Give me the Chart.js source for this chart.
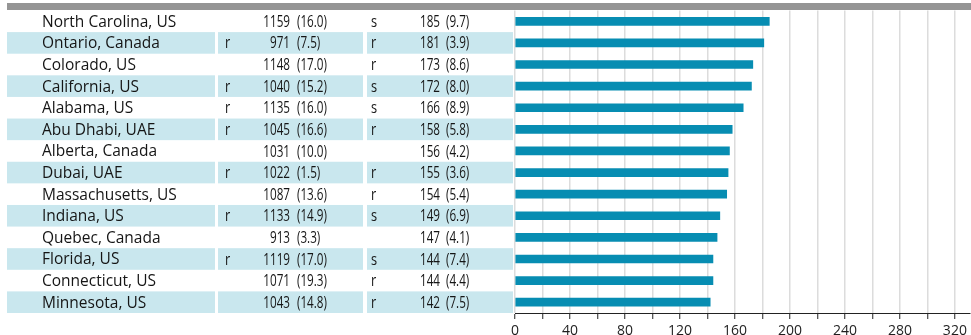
<!DOCTYPE html>
<html>
<head>
<meta charset="utf-8">
<script src="https://cdn.jsdelivr.net/npm/chart.js@4.4.0/dist/chart.umd.min.js"></script>
<style>
  html, body { margin: 0; padding: 0; background: #fff; }
  #wrap { width: 971px; height: 335px; }
</style>
</head>
<body>
<div id="wrap"><canvas id="rankChart"></canvas></div>
<script>
// Table rows, top to bottom
const regions = [
  "North Carolina, US", "Ontario, Canada", "Colorado, US", "California, US",
  "Alabama, US", "Abu Dhabi, UAE", "Alberta, Canada", "Dubai, UAE",
  "Massachusetts, US", "Indiana, US", "Quebec, Canada", "Florida, US",
  "Connecticut, US", "Minnesota, US",
];
const totalFlags = ["", "r", "", "r", "r", "r", "", "r", "", "r", "", "r", "", ""];
const totals = [1159, 971, 1148, 1040, 1135, 1045, 1031, 1022, 1087, 1133, 913, 1119, 1071, 1043];
const totalsPct = ["16.0", "7.5", "17.0", "15.2", "16.0", "16.6", "10.0", "1.5", "13.6", "14.9", "3.3", "17.0", "19.3", "14.8"];
const countFlags = ["s", "r", "r", "s", "s", "r", "", "r", "r", "s", "", "s", "r", "r"];
const counts = [185, 181, 173, 172, 166, 158, 156, 155, 154, 149, 147, 144, 144, 142];
const countsPct = ["9.7", "3.9", "8.6", "8.0", "8.9", "5.8", "4.2", "3.6", "5.4", "6.9", "4.1", "7.4", "4.4", "7.5"];

const nameFont = "500 15.5px 'Open Sans'";
const numFont = "500 16px 'Open Sans'";
const bandColor = "#c9e7ee";

// condensed text drawing (squeeze horizontally)
function drawSqueezed(ctx, str, x, y, align, sx) {
  ctx.save();
  ctx.translate(x, y);
  ctx.scale(sx, 1);
  ctx.textAlign = align;
  ctx.fillText(str, 0, 0);
  ctx.restore();
}

const tablePlugin = {
  id: "tablePlugin",
  beforeDraw(chart) {
    const ctx = chart.ctx;
    const yScale = chart.scales.y;
    const pitch = yScale.getPixelForValue(1) - yScale.getPixelForValue(0);
    ctx.save();
    // header strip
    ctx.fillStyle = "#959595";
    ctx.fillRect(7, 3, 964, 7);
    regions.forEach((name, i) => {
      const yc = yScale.getPixelForValue(i);
      if (i % 2 === 1) {
        ctx.fillStyle = bandColor;
        const top = yc - pitch / 2;
        ctx.fillRect(7, top, 208, pitch);
        ctx.fillRect(218, top, 145, pitch);
        ctx.fillRect(367, top, 146, pitch);
      }
      ctx.fillStyle = "#151515";
      ctx.textBaseline = "middle";
      const ty = yc + 1;
      ctx.font = nameFont;
      drawSqueezed(ctx, name, 42, ty, "left", 1);
      ctx.font = numFont;
      drawSqueezed(ctx, totalFlags[i], 225, ty, "left", 0.8);
      drawSqueezed(ctx, String(totals[i]), 290, ty, "right", 0.73);
      drawSqueezed(ctx, "(" + totalsPct[i] + ")", 297, ty, "left", 0.73);
      drawSqueezed(ctx, countFlags[i], 371, ty, "left", 0.8);
      drawSqueezed(ctx, String(counts[i]), 440, ty, "right", 0.73);
      drawSqueezed(ctx, "(" + countsPct[i] + ")", 446, ty, "left", 0.73);
    });
    ctx.restore();
  },
};

const ctxRank = document.getElementById("rankChart").getContext("2d");
const rankChart = new Chart(ctxRank, {
  type: "bar",
  data: {
    labels: regions,
    datasets: [
      {
        data: counts,
        backgroundColor: "#078db2",
        borderWidth: 0,
        barThickness: 8,
      },
    ],
  },
  options: {
    indexAxis: "y",
    responsive: true,
    maintainAspectRatio: false,
    animation: false,
    layout: { padding: { left: 515, top: 10.5, right: 1, bottom: 0 } },
    scales: {
      x: {
        min: 0,
        max: 331,
        afterBuildTicks(scale) {
          scale.ticks = scale.ticks.filter((t) => t.value % 20 === 0);
        },
        afterFit(scale) {
          scale.height = 22;
        },
        ticks: {
          stepSize: 20,
          includeBounds: false,
          autoSkip: false,
          maxRotation: 0,
          padding: 4,
          color: "#1e1e1e",
          font: { family: "Open Sans", size: 14 },
          callback: (v) => (v % 40 === 0 ? v : ""),
        },
        grid: {
          color: "#dcdcdc",
          lineWidth: 1.5,
          tickColor: "#222",
          tickLength: 6,
          tickWidth: 1,
        },
        border: { color: "#222", width: 1 },
      },
      y: {
        display: false,
      },
    },
    plugins: {
      legend: { display: false },
      tooltip: { enabled: false },
    },
  },
  plugins: [tablePlugin],
});
</script>
</body>
</html>
